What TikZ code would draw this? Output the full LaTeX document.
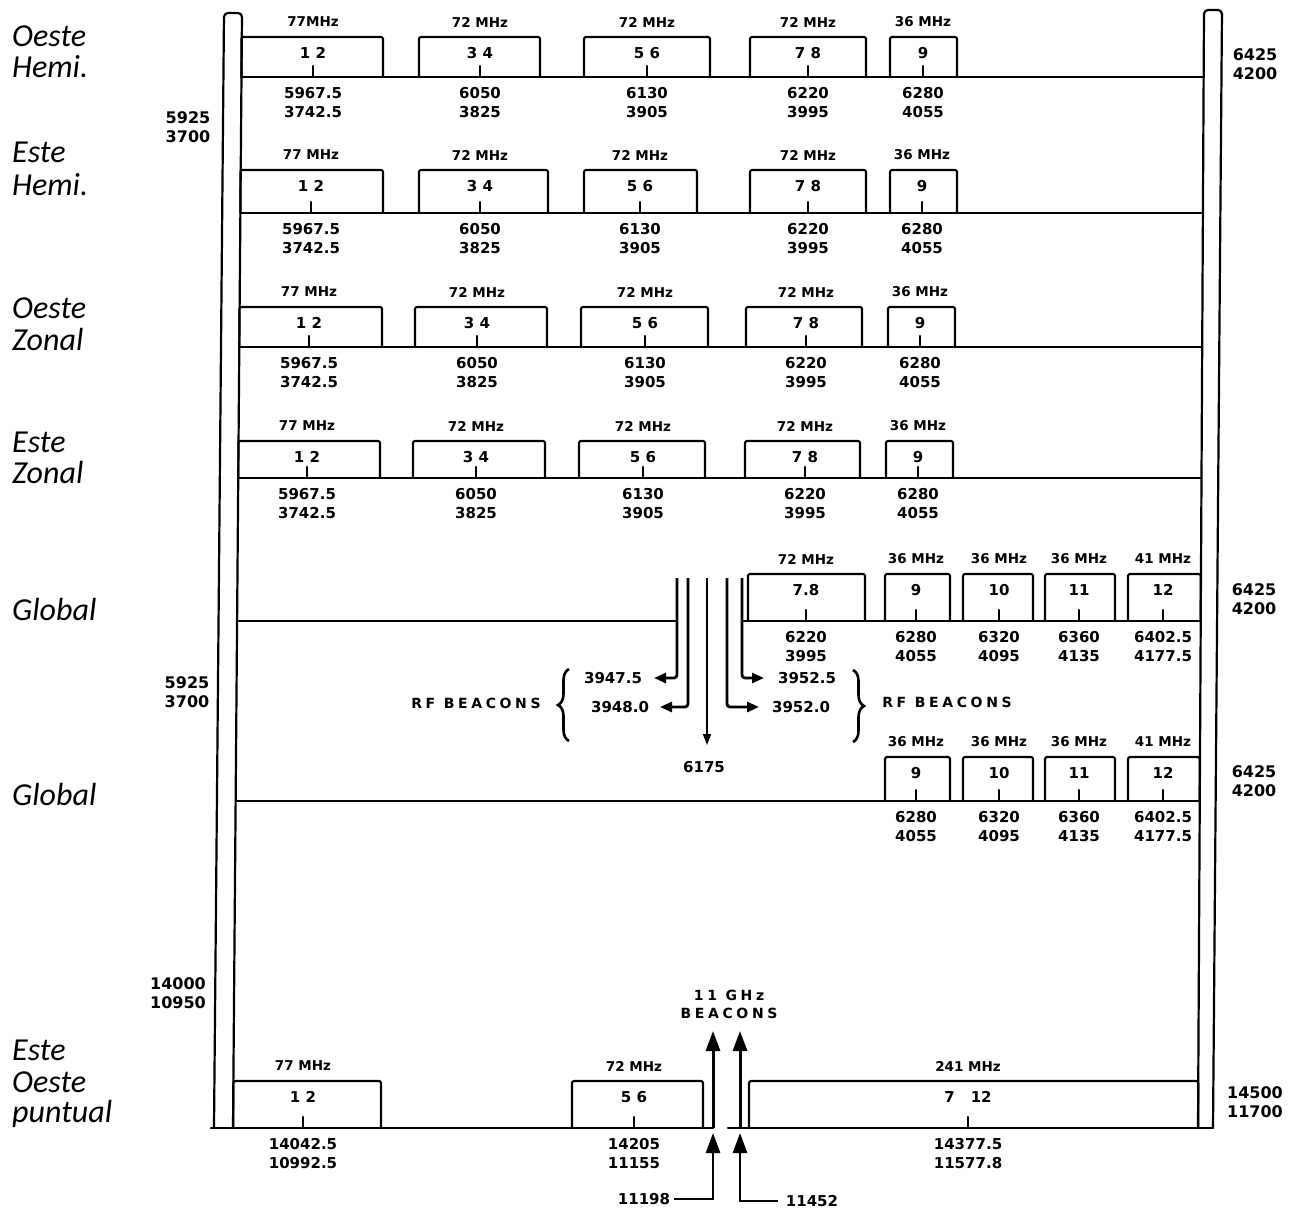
\documentclass[tikz,border=0pt]{standalone}
\usepackage{fontspec}
\usetikzlibrary{arrows.meta,decorations.pathreplacing}
\newfontfamily\lab{DejaVu Sans}
\newfontfamily\labsp{DejaVu Sans}[LetterSpace=26]
\newfontfamily\hand{Carlito}
\tikzset{
 ln/.style={line width=2.1pt, line join=round, line cap=round},
 rail/.style={line width=2.2pt, line join=round, rounded corners=4pt},
 bnum/.style={font=\lab\bfseries\fontsize{15}{17}\selectfont, inner sep=0pt},
 mhz/.style={font=\lab\bfseries\fontsize{13.5}{15}\selectfont, inner sep=0pt},
 freq/.style={font=\lab\bfseries\fontsize{15}{19}\selectfont, align=center, inner sep=0pt},
 side/.style={font=\lab\bfseries\fontsize{16}{19}\selectfont, align=center, inner sep=0pt},
 spaced/.style={font=\labsp\bfseries\fontsize{14}{18}\selectfont, align=center, inner sep=0pt},
 hw/.style={font=\hand\itshape\fontsize{32}{36}\selectfont, anchor=base west, inner sep=0pt},
 beam/.style={line width=2.8pt, rounded corners=3pt, -{Triangle[length=12pt,width=10pt]}},
 bigbeam/.style={line width=3pt, -{Triangle[length=20pt,width=14pt]}},
 brc/.style={decorate, decoration={brace, amplitude=11pt}, line width=2.6pt},
}
% #1 name #2 xl #3 xr #4 cx #5 ytop #6 ybot #7 number #8 bandwidth #9 frequencies
\newcommand\chbox[9]{%
 \draw[ln,rounded corners=2pt] (#2,#6) -- (#2,#5) -- (#3,#5) -- (#3,#6);
 \draw[ln] (#4,#6) -- (#4,#6-11);
 \node[bnum] (#1n) at (#4,#5+16) {#7};
 \node[mhz] (#1m) at (#4,#5-15) {#8};
 \node[freq] (#1f) at (#4,#6+26) {#9};
}
\begin{document}
\begin{tikzpicture}[x=1pt,y=-1pt]
\fill[white] (0,0) rectangle (1298,1212);
\useasboundingbox (0,0) rectangle (1298,1212);

% rails
\draw[rail] (214,1128) -- (224,13) -- (242,13) -- (233,1128);
\draw[rail] (1198,1128) -- (1204,10) -- (1222,10) -- (1213,1128);

% baselines
\draw[ln] (241.5,77) -- (1203.6,77);
\draw[ln] (240.4,213) -- (1202.9,213);
\draw[ln] (239.3,347) -- (1202.2,347);
\draw[ln] (238.3,478) -- (1201.5,478);
\draw[ln] (237.1,621) -- (677,621);
\draw[ln] (742,621) -- (1200.7,621);
\draw[ln] (235.6,801) -- (1199.7,801);
\draw[ln] (211,1128) -- (713,1128);
\draw[ln] (728,1128) -- (1213,1128);

% row labels
\node[hw] (l1a) at (12,47) {Oeste};
\node[hw] (l1b) at (12,78) {Hemi.};
\node[hw] (l2a) at (12,162) {Este};
\node[hw] (l2b) at (12,195) {Hemi.};
\node[hw] (l3a) at (12,318) {Oeste};
\node[hw] (l3b) at (12,350) {Zonal};
\node[hw] (l4a) at (12,452) {Este};
\node[hw] (l4b) at (12,483) {Zonal};
\node[hw] (l5a) at (12,620) {Global};
\node[hw] (l6a) at (12,805) {Global};
\node[hw] (l7a) at (12,1060) {Este};
\node[hw] (l7b) at (12,1092) {Oeste};
\node[hw] (l7c) at (12,1122) {puntual};

% side limits
\node[side] (s1) at (188,127.5) {5925\\3700};
\node[side] (s2) at (1255,64.5) {6425\\4200};
\node[side] (s3) at (187,692) {5925\\3700};
\node[side] (s4) at (1254,599.5) {6425\\4200};
\node[side] (s5) at (1254,781.5) {6425\\4200};
\node[side] (s6) at (178,993) {14000\\10950};
\node[side] (s7) at (1255,1102) {14500\\11700};

% row 1
\chbox{a1}{241.5}{383}{313}{37}{77}{1 2}{77MHz}{5967.5\\3742.5}
\chbox{a2}{419}{540}{480}{37}{77}{3 4}{72 MHz}{6050\\3825}
\chbox{a3}{584}{710}{647}{37}{77}{5 6}{72 MHz}{6130\\3905}
\chbox{a4}{750}{866}{808}{37}{77}{7 8}{72 MHz}{6220\\3995}
\chbox{a5}{890}{957}{923}{37}{77}{9}{36 MHz}{6280\\4055}
% row 2
\chbox{b1}{240.4}{383}{311}{170}{213}{1 2}{77 MHz}{5967.5\\3742.5}
\chbox{b2}{419}{548}{480}{170}{213}{3 4}{72 MHz}{6050\\3825}
\chbox{b3}{584}{697}{640}{170}{213}{5 6}{72 MHz}{6130\\3905}
\chbox{b4}{750}{866}{808}{170}{213}{7 8}{72 MHz}{6220\\3995}
\chbox{b5}{890}{957}{922}{170}{213}{9}{36 MHz}{6280\\4055}
% row 3
\chbox{c1}{239.3}{382}{309}{307}{347}{1 2}{77 MHz}{5967.5\\3742.5}
\chbox{c2}{415}{547}{477}{307}{347}{3 4}{72 MHz}{6050\\3825}
\chbox{c3}{581}{708}{645}{307}{347}{5 6}{72 MHz}{6130\\3905}
\chbox{c4}{746}{862}{806}{307}{347}{7 8}{72 MHz}{6220\\3995}
\chbox{c5}{888}{955}{920}{307}{347}{9}{36 MHz}{6280\\4055}
% row 4
\chbox{d1}{238.3}{380}{307}{441}{478}{1 2}{77 MHz}{5967.5\\3742.5}
\chbox{d2}{413}{545}{476}{441}{478}{3 4}{72 MHz}{6050\\3825}
\chbox{d3}{579}{705}{643}{441}{478}{5 6}{72 MHz}{6130\\3905}
\chbox{d4}{745}{860}{805}{441}{478}{7 8}{72 MHz}{6220\\3995}
\chbox{d5}{886}{953}{918}{441}{478}{9}{36 MHz}{6280\\4055}
% global 1
\chbox{e1}{748}{865}{806}{574}{621}{7.8}{72 MHz}{6220\\3995}
\chbox{e2}{885}{950}{916}{574}{621}{9}{36 MHz}{6280\\4055}
\chbox{e3}{963}{1033}{999}{574}{621}{10}{36 MHz}{6320\\4095}
\chbox{e4}{1045}{1115}{1079}{574}{621}{11}{36 MHz}{6360\\4135}
\chbox{e5}{1128}{1200.7}{1163}{574}{621}{12}{41 MHz}{6402.5\\4177.5}
% global 2
\chbox{f2}{885}{950}{916}{757}{801}{9}{36 MHz}{6280\\4055}
\chbox{f3}{963}{1033}{999}{757}{801}{10}{36 MHz}{6320\\4095}
\chbox{f4}{1045}{1115}{1079}{757}{801}{11}{36 MHz}{6360\\4135}
\chbox{f5}{1128}{1199.7}{1163}{757}{801}{12}{41 MHz}{6402.5\\4177.5}
% bottom row
\chbox{g1}{233.4}{381}{303}{1081}{1128}{1 2}{77 MHz}{14042.5\\10992.5}
\chbox{g2}{572}{703}{634}{1081}{1128}{5 6}{72 MHz}{14205\\11155}
\chbox{g3}{749}{1198.2}{968}{1081}{1128}{7\hspace{16pt}12}{241 MHz}{14377.5\\11577.8}

% RF beacons (global)
\node[freq] (r1) at (613,678) {3947.5};
\node[freq] (r2) at (620,707) {3948.0};
\node[freq] (r3) at (807,678) {3952.5};
\node[freq] (r4) at (801,707) {3952.0};
\node[freq] (r5) at (704,767) {6175};
\coordinate (t1) at (677,578);
\coordinate (t2) at (688,578);
\coordinate (t3) at (707,578);
\coordinate (t4) at (727,578);
\coordinate (t5) at (742,578);
\coordinate (h1) at (654,678);
\coordinate (h2) at (660,707);
\coordinate (h3) at (707,745);
\coordinate (h4) at (759,707);
\coordinate (h5) at (764,678);
\draw[beam] (t1) |- (h1);
\draw[beam] (t2) |- (h2);
\draw[line width=1.6pt, -{Triangle[length=11pt,width=8pt]}] (t3) -- (h3);
\draw[beam] (t4) |- (h4);
\draw[beam] (t5) |- (h5);
\coordinate (bl1) at (569,741);
\coordinate (bl2) at (569,669);
\draw[brc] (bl1) -- (bl2);
\coordinate (br1) at (853,670);
\coordinate (br2) at (853,742);
\draw[brc] (br1) -- (br2);
\node[spaced] (rb1) at (476,703) {RF BEACONS};
\node[spaced] (rb2) at (947,702) {RF BEACONS};

% 11 GHz beacons
\node[spaced] (gb) at (729,1004) {11 GHz\\BEACONS};
\coordinate (u1) at (713,1031);
\coordinate (u2) at (740,1031);
\draw[bigbeam] (713,1128) -- (u1);
\draw[bigbeam] (740,1128) -- (u2);
\node[freq] (k1) at (644,1199) {11198};
\node[freq] (k2) at (812,1201) {11452};
\coordinate (w1) at (713,1133);
\coordinate (w2) at (740,1133);
\draw[bigbeam, line width=2.8pt] ([xshift=4pt]k1.east) -| (w1);
\draw[bigbeam, line width=2.8pt] ([xshift=-8pt]k2.west) -| (w2);
\end{tikzpicture}
\end{document}
